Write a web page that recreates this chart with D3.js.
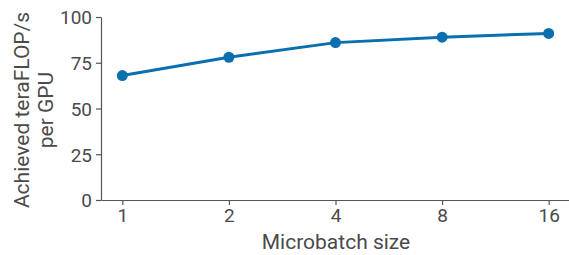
<!DOCTYPE html>
<html>
<head>
  <meta charset="utf-8">
  <title>Microbatch size</title>
  <style>
    body { margin: 0; background: #fff; }
    text { font-family: Roboto, sans-serif; fill: #4a4a4a; }
  </style>
</head>
<body>
  <div id="plot"></div>
  <script src="https://cdn.jsdelivr.net/npm/d3@7"></script>
  <script>
    // data
    const microbatch = [1, 2, 4, 8, 16];
    const tflops = [68, 78, 86, 89, 91];
    const yTicks = [0, 25, 50, 75, 100];

    const svgWidth = 569, svgHeight = 255;
    const margin = {top: 17, left: 101};

    const svg = d3.select('#plot').append('svg')
      .attr('width', svgWidth)
      .attr('height', svgHeight);

    // log2 x axis, padded on both ends
    const x = d3.scaleLog().base(2)
      .domain([Math.pow(2, -0.2), Math.pow(2, 4.2)])
      .range([margin.left, 570]);

    const y = d3.scaleLinear()
      .domain([0, 100])
      .range([200, margin.top]);

    const axisColor = '#555';

    const gx = svg.append('g')
      .attr('transform', 'translate(0,200)')
      .call(d3.axisBottom(x).tickValues(microbatch).tickFormat(d3.format('d')).tickSize(5).tickPadding(4).tickSizeOuter(0));
    gx.selectAll('text').style('font-size', '19px').attr('fill', '#4a4a4a');
    gx.selectAll('line, path').attr('stroke', axisColor).attr('stroke-width', 1.2);

    const gy = svg.append('g')
      .attr('transform', 'translate(' + margin.left + ',0)')
      .call(d3.axisLeft(y).tickValues(yTicks).tickSize(5).tickPadding(4).tickSizeOuter(0));
    gy.selectAll('text').style('font-size', '19px').attr('fill', '#4a4a4a').attr('dy', '0.36em');
    gy.selectAll('line, path').attr('stroke', axisColor).attr('stroke-width', 1.2);

    // line + points
    const pts = microbatch.map((d, i) => [d, tflops[i]]);
    const color = '#0a6fae';

    svg.append('path')
      .datum(pts)
      .attr('fill', 'none')
      .attr('stroke', color)
      .attr('stroke-width', 3)
      .attr('d', d3.line().x(d => x(d[0])).y(d => y(d[1])));

    svg.selectAll('circle.pt')
      .data(pts)
      .enter().append('circle')
      .attr('class', 'pt')
      .attr('cx', d => x(d[0]))
      .attr('cy', d => y(d[1]))
      .attr('r', 5.5)
      .attr('fill', color);

    // labels
    svg.append('text')
      .attr('x', 336)
      .attr('y', 249)
      .attr('text-anchor', 'middle')
      .style('font-size', '21px')
      .text('Microbatch size');

    const yl = svg.append('text')
      .attr('transform', 'translate(29,110) rotate(-90)')
      .attr('text-anchor', 'middle')
      .style('font-size', '21px');
    yl.append('tspan').attr('x', 0).attr('y', 0).text('Achieved teraFLOP/s');
    yl.append('tspan').attr('x', 0).attr('y', 24).text('per GPU');
  </script>
</body>
</html>
